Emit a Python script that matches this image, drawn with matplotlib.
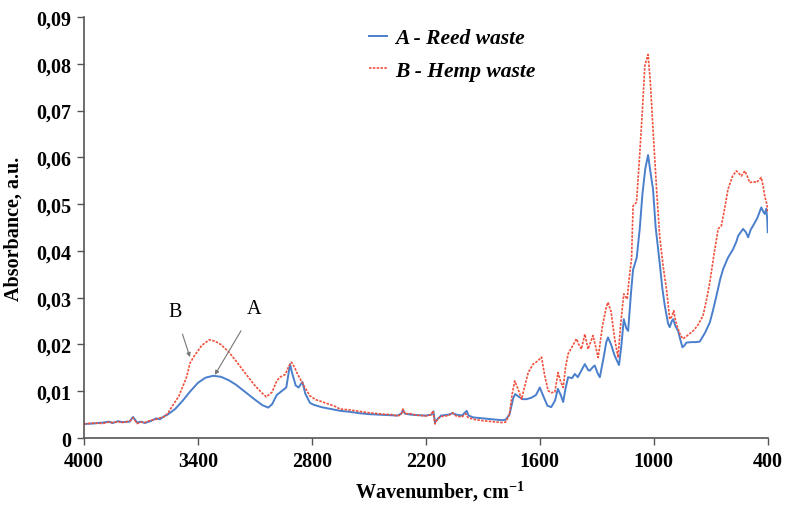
import matplotlib
matplotlib.use("Agg")
import matplotlib.pyplot as plt
from matplotlib.ticker import FuncFormatter

plt.rcParams['font.family'] = ['Liberation Serif', 'DejaVu Serif']
plt.rcParams['mathtext.fontset'] = 'custom'
plt.rcParams['mathtext.rm'] = 'Liberation Serif'
plt.rcParams['mathtext.bf'] = 'Liberation Serif:bold'

# A - Reed waste (wavenumber, absorbance)
wn_a = [4000, 3950, 3900, 3870, 3850, 3820, 3800, 3760, 3742, 3720, 3700, 3680, 3650,
        3620, 3600, 3580, 3560, 3520, 3480, 3440, 3400, 3360, 3320, 3280, 3240, 3200,
        3150, 3100, 3060, 3030, 3010, 2985, 2960, 2935, 2915, 2905, 2885, 2870, 2850,
        2835, 2810, 2790, 2750, 2700, 2650, 2600, 2550, 2500, 2450, 2400, 2350, 2330,
        2320, 2310, 2280, 2250, 2200, 2170, 2160, 2152, 2140, 2120, 2080, 2060, 2040,
        2010, 1985, 1975, 1950, 1900, 1850, 1800, 1780, 1760, 1740, 1730, 1710, 1690,
        1670, 1645, 1620, 1600, 1580, 1560, 1540, 1520, 1505, 1490, 1477, 1465, 1451,
        1430, 1416, 1400, 1380, 1363, 1345, 1337, 1320, 1311, 1295, 1284, 1265, 1250,
        1241, 1225, 1205, 1183, 1170, 1158, 1145, 1135, 1120, 1109, 1090, 1074, 1060,
        1045, 1030, 1018, 1004, 990, 969, 955, 942, 925, 916, 905, 898, 885, 872, 860,
        849, 838, 828, 800, 780, 758, 730, 705, 690, 670, 650, 635, 610, 582, 565, 556,
        530, 515, 503, 490, 477, 455, 434, 425, 416, 408, 403, 400]
abs_a = [0.0030, 0.0031, 0.0033, 0.0035, 0.0032, 0.0036, 0.0034, 0.0035, 0.0045, 0.0033,
         0.0035, 0.0032, 0.0036, 0.0042, 0.0040, 0.0046, 0.0050, 0.0062, 0.0080, 0.0100,
         0.0118, 0.0129, 0.0133, 0.0131, 0.0124, 0.0114, 0.0098, 0.0082, 0.0070, 0.0065,
         0.0072, 0.0092, 0.0100, 0.0108, 0.0158, 0.0140, 0.0112, 0.0108, 0.0120, 0.0095,
         0.0075, 0.0071, 0.0066, 0.0062, 0.0058, 0.0056, 0.0053, 0.0051, 0.0050, 0.0049,
         0.0048, 0.0052, 0.0060, 0.0052, 0.0050, 0.0049, 0.0048, 0.0050, 0.0057, 0.0033,
         0.0040, 0.0048, 0.0050, 0.0053, 0.0050, 0.0048, 0.0058, 0.0048, 0.0044, 0.0042,
         0.0040, 0.0038, 0.0039, 0.0050, 0.0085, 0.0094, 0.0088, 0.0083, 0.0083, 0.0086,
         0.0092, 0.0108, 0.0088, 0.0069, 0.0066, 0.0080, 0.0105, 0.0092, 0.0077, 0.0105,
         0.0130, 0.0128, 0.0137, 0.0130, 0.0145, 0.0158, 0.0145, 0.0144, 0.0152, 0.0155,
         0.0138, 0.0130, 0.0170, 0.0205, 0.0215, 0.0200, 0.0175, 0.0156, 0.0200, 0.0254,
         0.0235, 0.0229, 0.0310, 0.0360, 0.0385, 0.0447, 0.0520, 0.0575, 0.0605, 0.0570,
         0.0532, 0.0450, 0.0375, 0.0320, 0.0283, 0.0245, 0.0237, 0.0250, 0.0254, 0.0238,
         0.0229, 0.0210, 0.0194, 0.0198, 0.0204, 0.0205, 0.0205, 0.0206, 0.0225, 0.0247,
         0.0270, 0.0304, 0.0340, 0.0361, 0.0385, 0.0404, 0.0420, 0.0432, 0.0447, 0.0440,
         0.0429, 0.0445, 0.0454, 0.0470, 0.0493, 0.0485, 0.0479, 0.0490, 0.0470, 0.0440]

# B - Hemp waste
wn_b = [4000, 3950, 3900, 3870, 3850, 3820, 3800, 3760, 3742, 3720, 3700, 3680, 3650,
        3620, 3600, 3580, 3560, 3540, 3500, 3460, 3442, 3420, 3380, 3340, 3310, 3280,
        3240, 3200, 3150, 3100, 3060, 3040, 3010, 2985, 2968, 2940, 2920, 2907, 2890,
        2880, 2860, 2840, 2810, 2780, 2750, 2716, 2680, 2653, 2600, 2550, 2500, 2426,
        2380, 2350, 2330, 2321, 2310, 2280, 2250, 2200, 2170, 2163, 2152, 2140, 2120,
        2080, 2060, 2040, 2010, 1990, 1979, 1950, 1900, 1850, 1800, 1780, 1760, 1745,
        1732, 1715, 1696, 1680, 1661, 1635, 1610, 1591, 1575, 1556, 1540, 1521, 1504,
        1490, 1477, 1465, 1451, 1430, 1407, 1395, 1381, 1363, 1346, 1320, 1300, 1293,
        1270, 1250, 1241, 1225, 1205, 1188, 1175, 1158, 1140, 1130, 1117, 1109, 1091,
        1075, 1060, 1047, 1030, 1018, 1004, 985, 969, 950, 933, 916, 905, 895, 885, 872,
        860, 846, 820, 793, 770, 741, 720, 705, 680, 661, 644, 625, 609, 585, 565, 550,
        539, 521, 508, 495, 475, 460, 445, 434, 425, 416, 405, 398]
abs_b = [0.0030, 0.0032, 0.0031, 0.0034, 0.0033, 0.0035, 0.0033, 0.0036, 0.0043, 0.0031,
         0.0034, 0.0033, 0.0038, 0.0040, 0.0043, 0.0045, 0.0052, 0.0065, 0.0090, 0.0130,
         0.0160, 0.0175, 0.0198, 0.0210, 0.0207, 0.0200, 0.0185, 0.0165, 0.0138, 0.0112,
         0.0095, 0.0088, 0.0098, 0.0122, 0.0130, 0.0136, 0.0155, 0.0162, 0.0150, 0.0140,
         0.0125, 0.0110, 0.0090, 0.0082, 0.0078, 0.0073, 0.0068, 0.0062, 0.0060, 0.0057,
         0.0054, 0.0051, 0.0050, 0.0047, 0.0050, 0.0062, 0.0052, 0.0052, 0.0049, 0.0047,
         0.0050, 0.0058, 0.0030, 0.0040, 0.0046, 0.0048, 0.0054, 0.0047, 0.0045, 0.0052,
         0.0044, 0.0040, 0.0037, 0.0035, 0.0033, 0.0034, 0.0050, 0.0095, 0.0122, 0.0105,
         0.0083, 0.0110, 0.0140, 0.0158, 0.0165, 0.0173, 0.0135, 0.0101, 0.0097, 0.0098,
         0.0140, 0.0120, 0.0108, 0.0150, 0.0180, 0.0195, 0.0212, 0.0200, 0.0190, 0.0222,
         0.0190, 0.0219, 0.0185, 0.0172, 0.0240, 0.0280, 0.0290, 0.0270, 0.0210, 0.0172,
         0.0240, 0.0308, 0.0297, 0.0340, 0.0383, 0.0496, 0.0504, 0.0600, 0.0700, 0.0796,
         0.0820, 0.0760, 0.0660, 0.0530, 0.0432, 0.0365, 0.0318, 0.0254, 0.0260, 0.0272,
         0.0250, 0.0233, 0.0220, 0.0212, 0.0220, 0.0229, 0.0240, 0.0261, 0.0300, 0.0333,
         0.0400, 0.0447, 0.0454, 0.0495, 0.0532, 0.0560, 0.0571, 0.0565, 0.0560, 0.0571,
         0.0560, 0.0546, 0.0548, 0.0546, 0.0552, 0.0557, 0.0540, 0.0518, 0.0500, 0.0482]

x_ticks = [4000, 3400, 2800, 2200, 1600, 1000, 400]
y_ticks = [0, 0.01, 0.02, 0.03, 0.04, 0.05, 0.06, 0.07, 0.08, 0.09]

fig = plt.figure(figsize=(7.85, 5.06), dpi=100)
ax = fig.add_axes([0.107, 0.1324, 0.871, 0.832])

ax.plot(wn_a, abs_a, color='#4a7fcc', lw=1.4, label='A - Reed waste')
ax.plot(wn_b, abs_b, color='#f0503c', lw=1.2, ls=(0, (1.5, 0.8)), label='B - Hemp waste')

ax.set_xlim(4000, 400)
ax.set_ylim(0, 0.09)
ax.set_xticks(x_ticks)
ax.set_yticks(y_ticks)


def comma_fmt(v, pos):
    if abs(v) < 1e-9:
        return '0'
    return ('%.2f' % v).replace('.', ',')


ax.yaxis.set_major_formatter(FuncFormatter(comma_fmt))
for lab in ax.get_xticklabels() + ax.get_yticklabels():
    lab.set_fontweight('bold')
    lab.set_fontsize(14.5)
ax.tick_params(direction='out', length=5, width=1, color='#555555', pad=4)

for s in ['top', 'right']:
    ax.spines[s].set_visible(False)
for s in ['left', 'bottom']:
    ax.spines[s].set_color('#555555')
    ax.spines[s].set_linewidth(1.2)

ax.set_xlabel('Wavenumber, cm$^{\\mathbf{-1}}$', fontsize=14.5, fontweight='bold')
ax.xaxis.set_label_coords(0.52, -0.095)
ax.set_ylabel('Absorbance, a.u.', fontsize=14.5, fontweight='bold')
ax.yaxis.set_label_coords(-0.088, 0.5)

leg = ax.legend(loc='upper left', bbox_to_anchor=(0.388, 1.02), frameon=False,
                handlelength=0.85, handletextpad=0.4, labelspacing=0.6,
                prop={'family': 'Liberation Serif', 'weight': 'bold',
                      'style': 'italic', 'size': 15.5})

arrow = dict(arrowstyle='-|>', color='#777777', lw=0.8, mutation_scale=6,
             shrinkA=8, shrinkB=0)
ax.annotate('B', xy=(3442, 0.0173), xytext=(3521, 0.0271), fontsize=14.5,
            ha='center', va='center', arrowprops=arrow)
ax.annotate('A', xy=(3311, 0.0135), xytext=(3105, 0.0276), fontsize=14.5,
            ha='center', va='center', arrowprops=arrow)

fig.savefig('out.png', dpi=100)
